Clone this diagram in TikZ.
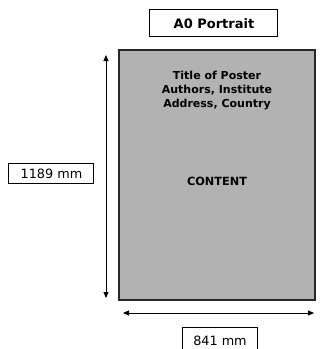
\documentclass[tikz,border=0pt]{standalone}
\usepackage{fontspec}
\setmainfont{DejaVu Sans}
\usetikzlibrary{arrows.meta}
\definecolor{postergray}{RGB}{178,178,178}
\definecolor{edgegray}{RGB}{40,40,40}
\tikzset{
  labelbox/.style={draw=black,line width=0.8pt,fill=white},
  postertext/.style={font=\fontsize{11}{12}\selectfont\bfseries,anchor=base,inner sep=0pt},
  dimtext/.style={font=\fontsize{12.8}{14}\selectfont,anchor=base,inner sep=0pt},
  dimarrow/.style={{Triangle[length=6pt,width=5pt]}-{Triangle[length=6pt,width=5pt]},line width=0.9pt}
}
\begin{document}
\begin{tikzpicture}[x=1pt,y=-1pt]
\useasboundingbox (0,0) rectangle (322,349);
% poster sheet
\draw[fill=postergray,draw=edgegray,line width=1.1pt] (119,50) rectangle (315,300);
\node[postertext] (t1) at (217,79.3) {Title of Poster};
\node[postertext] (t2) at (217,93.5) {Authors, Institute};
\node[postertext] (t3) at (217,107.8) {Address, Country};
\node[postertext,font=\fontsize{11.3}{12}\selectfont\bfseries] (content) at (217,185) {CONTENT};
% title box
\draw[labelbox] (149,9) rectangle (277,36);
\node[anchor=base,inner sep=0pt,font=\fontsize{13}{15}\selectfont\bfseries] (a0) at (214,28.3) {A0 Portrait};
% height
\coordinate (vtop) at (106,55);
\coordinate (vbot) at (106,298);
\draw[dimarrow] (vtop) -- (vbot);
\draw[labelbox] (8,163) rectangle (93,183);
\node[dimtext] (h) at (51.5,178.3) {1189 mm};
% width
\coordinate (hl) at (123,313);
\coordinate (hr) at (314,313);
\draw[dimarrow] (hl) -- (hr);
\draw[labelbox] (182,327) rectangle (257,360);
\node[dimtext] (w) at (220,345.5) {841 mm};
\end{tikzpicture}
\end{document}
